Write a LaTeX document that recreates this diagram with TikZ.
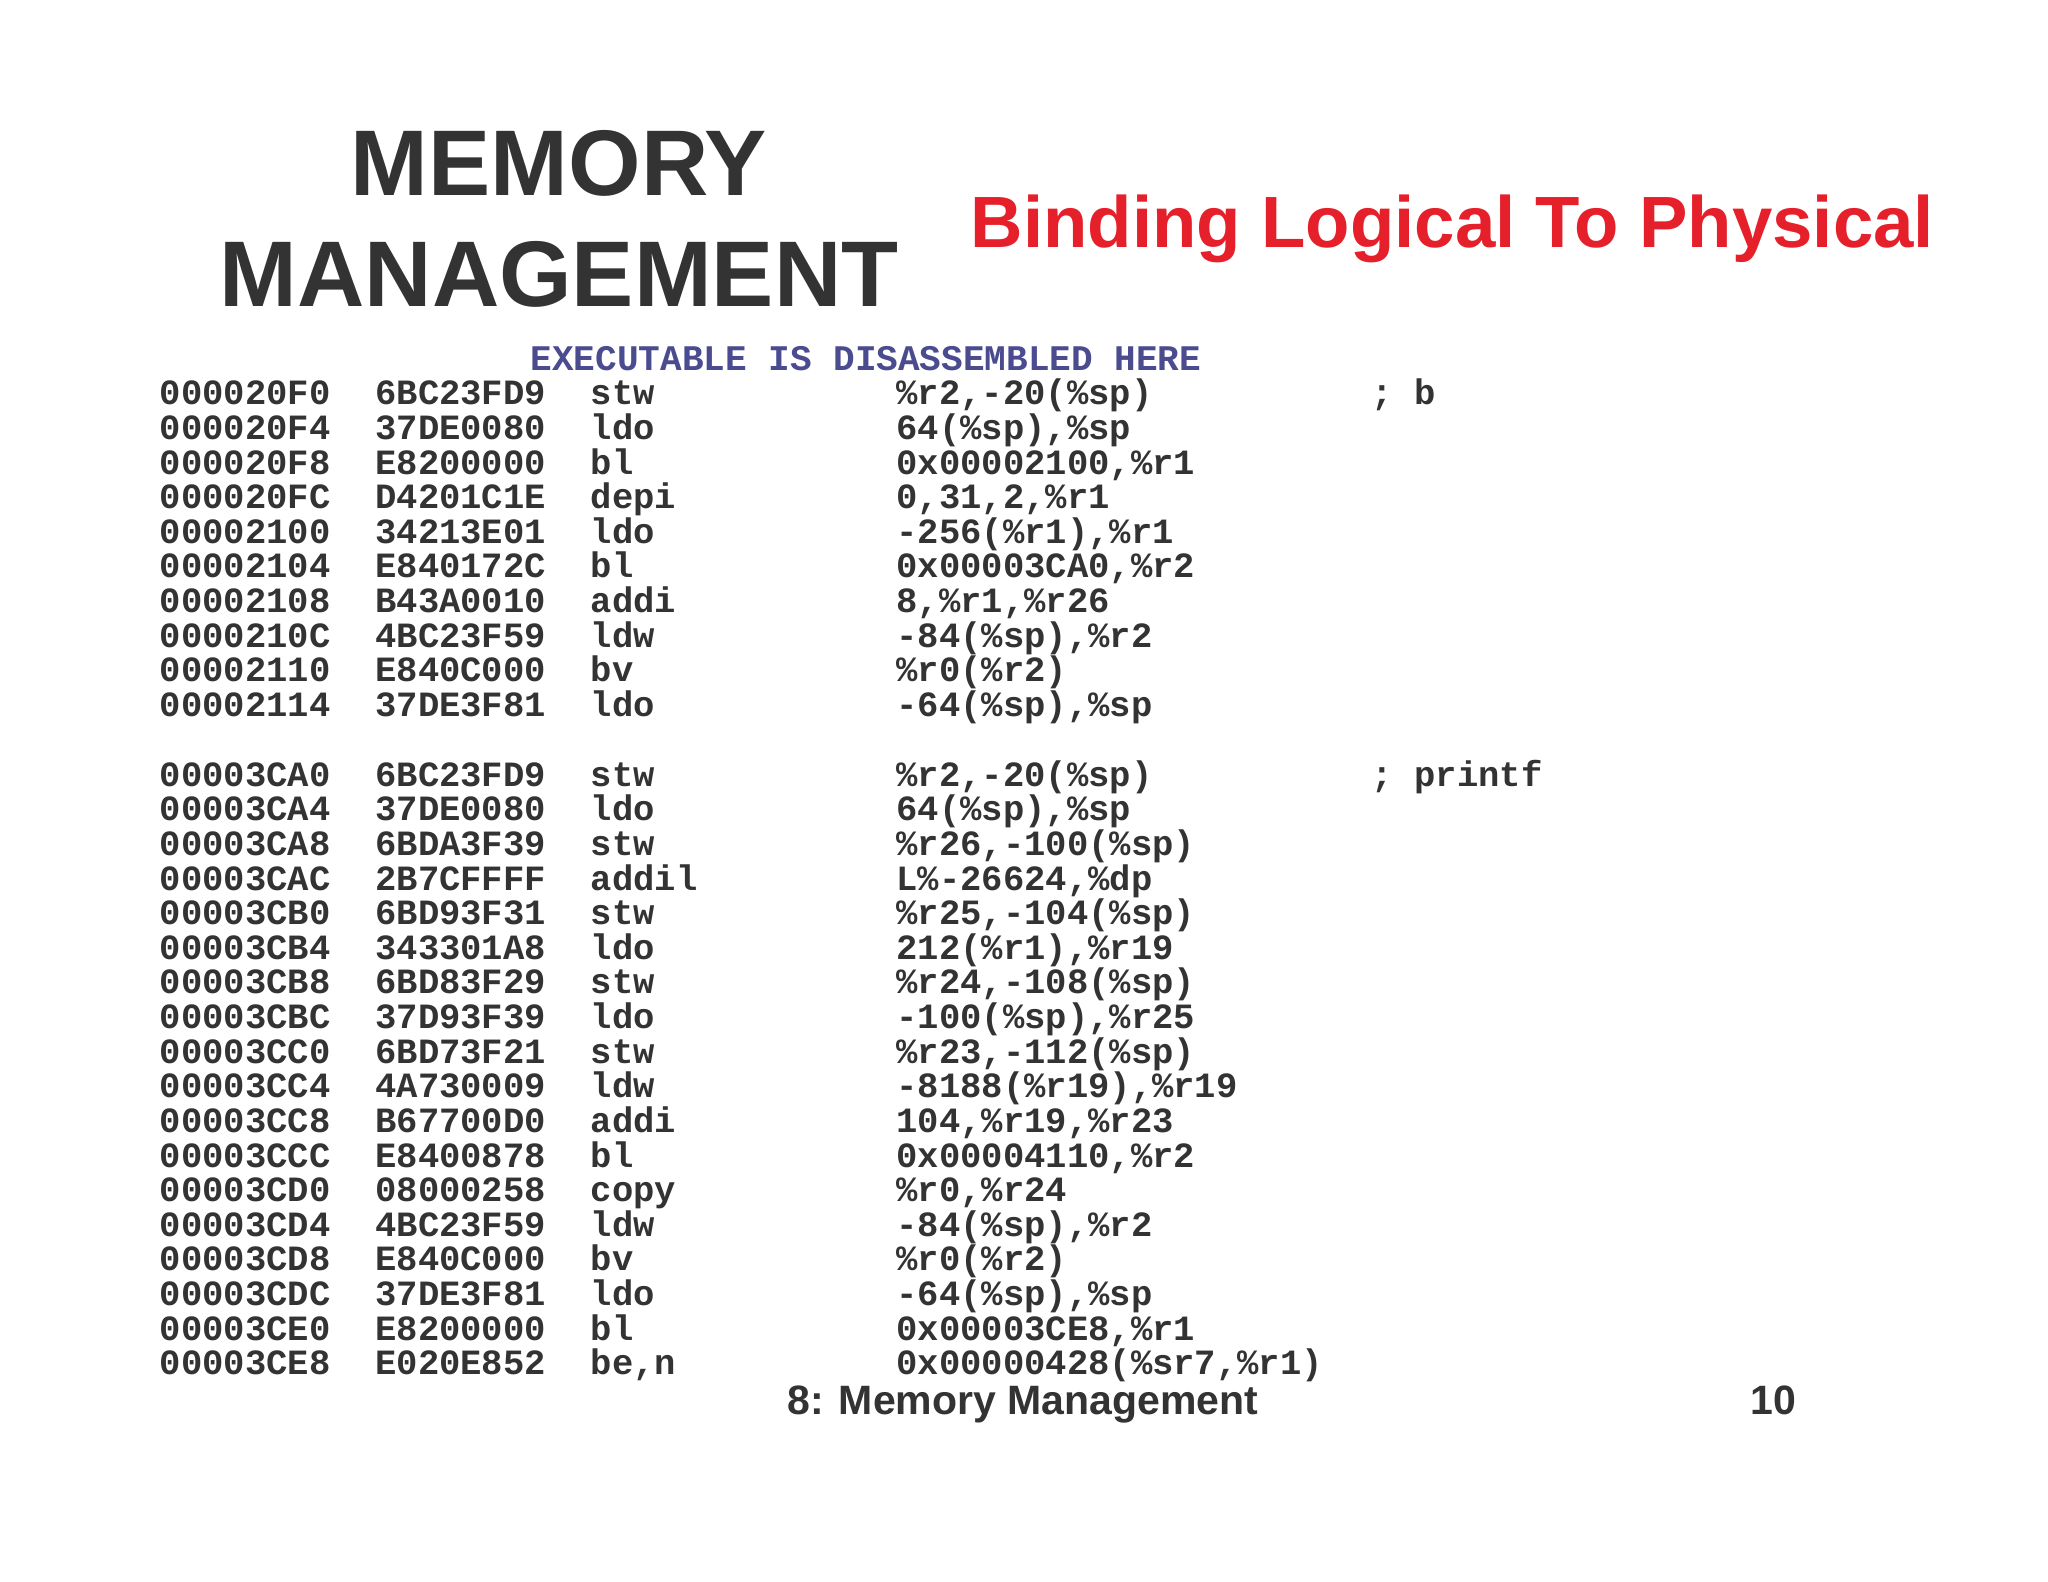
\documentclass[tikz,border=0pt]{standalone}
\usepackage{fontspec}
\setmainfont{Liberation Sans}
\newfontfamily\cmono{Liberation Mono}
\definecolor{ttl}{HTML}{333333}
\definecolor{redt}{HTML}{E5202A}
\definecolor{bluet}{HTML}{4B4B8F}
\newcommand\crow[5]{%
 \node[cd] (a#1) at (122,#1) {#2};
 \node[cd] (b#1) at (287,#1) {#3};
 \node[cd] (c#1) at (452,#1) {#4};
 \node[cd] (d#1) at (686,#1) {#5};}
\begin{document}
\begin{tikzpicture}[x=0.5pt,y=-0.5pt,
 cd/.style={anchor=base west,inner sep=0pt,font=\cmono\bfseries\fontsize{13.6}{14}\selectfont,text=ttl}]
\useasboundingbox (0,0) rectangle (1568,1211);
\node[font=\bfseries\fontsize{35.7}{38}\selectfont,text=ttl] (t1) at (428,125) {MEMORY};
\node[font=\bfseries\fontsize{35.7}{38}\selectfont,text=ttl] (t2) at (428,210) {MANAGEMENT};
\node[font=\bfseries\fontsize{27.8}{30}\selectfont,text=redt] (t3) at (1112,175) {Binding Logical To Physical};
\node[anchor=base,inner sep=0pt,font=\cmono\bfseries\fontsize{13.8}{14}\selectfont,text=bluet] (ex) at (663,284) {EXECUTABLE IS DISASSEMBLED HERE};
\crow{310}{000020F0}{6BC23FD9}{stw}{\%r2,-20(\%sp)}
\node[cd] (e1) at (1050,310) {; b};
\crow{336.5}{000020F4}{37DE0080}{ldo}{64(\%sp),\%sp}
\crow{363}{000020F8}{E8200000}{bl}{0x00002100,\%r1}
\crow{389.5}{000020FC}{D4201C1E}{depi}{0,31,2,\%r1}
\crow{416}{00002100}{34213E01}{ldo}{-256(\%r1),\%r1}
\crow{442.5}{00002104}{E840172C}{bl}{0x00003CA0,\%r2}
\crow{469}{00002108}{B43A0010}{addi}{8,\%r1,\%r26}
\crow{495.5}{0000210C}{4BC23F59}{ldw}{-84(\%sp),\%r2}
\crow{522}{00002110}{E840C000}{bv}{\%r0(\%r2)}
\crow{548.5}{00002114}{37DE3F81}{ldo}{-64(\%sp),\%sp}
\crow{602}{00003CA0}{6BC23FD9}{stw}{\%r2,-20(\%sp)}
\node[cd] (e2) at (1050,602) {; printf};
\crow{628.5}{00003CA4}{37DE0080}{ldo}{64(\%sp),\%sp}
\crow{655}{00003CA8}{6BDA3F39}{stw}{\%r26,-100(\%sp)}
\crow{681.5}{00003CAC}{2B7CFFFF}{addil}{L\%-26624,\%dp}
\crow{708}{00003CB0}{6BD93F31}{stw}{\%r25,-104(\%sp)}
\crow{734.5}{00003CB4}{343301A8}{ldo}{212(\%r1),\%r19}
\crow{761}{00003CB8}{6BD83F29}{stw}{\%r24,-108(\%sp)}
\crow{787.5}{00003CBC}{37D93F39}{ldo}{-100(\%sp),\%r25}
\crow{814}{00003CC0}{6BD73F21}{stw}{\%r23,-112(\%sp)}
\crow{840.5}{00003CC4}{4A730009}{ldw}{-8188(\%r19),\%r19}
\crow{867}{00003CC8}{B67700D0}{addi}{104,\%r19,\%r23}
\crow{893.5}{00003CCC}{E8400878}{bl}{0x00004110,\%r2}
\crow{920}{00003CD0}{08000258}{copy}{\%r0,\%r24}
\crow{946.5}{00003CD4}{4BC23F59}{ldw}{-84(\%sp),\%r2}
\crow{973}{00003CD8}{E840C000}{bv}{\%r0(\%r2)}
\crow{999.5}{00003CDC}{37DE3F81}{ldo}{-64(\%sp),\%sp}
\crow{1026}{00003CE0}{E8200000}{bl}{0x00003CE8,\%r1}
\crow{1052.5}{00003CE8}{E020E852}{be,n}{0x00000428(\%sr7,\%r1)}
\node[anchor=base,inner sep=0pt,font=\bfseries\fontsize{15.7}{18}\selectfont,text=ttl] (f1) at (783,1083) {8: Memory Management};
\node[anchor=base,inner sep=0pt,font=\bfseries\fontsize{15.7}{18}\selectfont,text=ttl] (f2) at (1358,1083) {10};
\end{tikzpicture}
\end{document}
